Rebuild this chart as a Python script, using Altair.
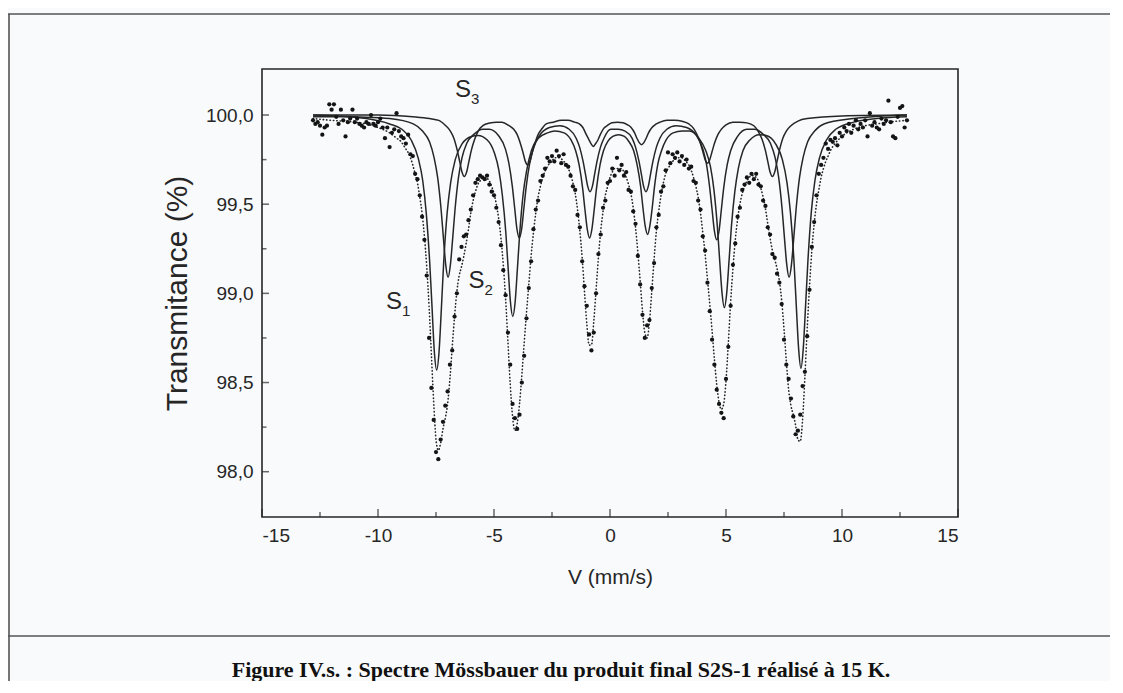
import altair as alt
import pandas as pd

# ---------------- measured spectrum (velocity channel, transmittance %) ----------------
DATA_V = [
    -12.8, -12.7, -12.6, -12.5, -12.4, -12.3, -12.2, -12.1, -12.0, -11.9,
    -11.8, -11.7, -11.6, -11.5, -11.4, -11.3, -11.2, -11.1, -11.0, -10.9,
    -10.8, -10.7, -10.6, -10.5, -10.4, -10.3, -10.2, -10.1, -10.0, -9.9,
    -9.8, -9.7, -9.6, -9.5, -9.4, -9.3, -9.2, -9.1, -9.0, -8.9,
    -8.8, -8.7, -8.6, -8.5, -8.4, -8.3, -8.2, -8.1, -8.0, -7.9,
    -7.8, -7.7, -7.6, -7.5, -7.4, -7.3, -7.2, -7.1, -7.0, -6.9,
    -6.8, -6.7, -6.6, -6.5, -6.4, -6.3, -6.2, -6.1, -6.0, -5.9,
    -5.8, -5.7, -5.6, -5.5, -5.4, -5.3, -5.2, -5.1, -5.0, -4.9,
    -4.8, -4.7, -4.6, -4.5, -4.4, -4.3, -4.2, -4.1, -4.0, -3.9,
    -3.8, -3.7, -3.6, -3.5, -3.4, -3.3, -3.2, -3.1, -3.0, -2.9,
    -2.8, -2.7, -2.6, -2.5, -2.4, -2.3, -2.2, -2.1, -2.0, -1.9,
    -1.8, -1.7, -1.6, -1.5, -1.4, -1.3, -1.2, -1.1, -1.0, -0.9,
    -0.8, -0.7, -0.6, -0.5, -0.4, -0.3, -0.2, -0.1, 0.0, 0.1,
    0.2, 0.3, 0.4, 0.5, 0.6, 0.7, 0.8, 0.9, 1.0, 1.1,
    1.2, 1.3, 1.4, 1.5, 1.6, 1.7, 1.8, 1.9, 2.0, 2.1,
    2.2, 2.3, 2.4, 2.5, 2.6, 2.7, 2.8, 2.9, 3.0, 3.1,
    3.2, 3.3, 3.4, 3.5, 3.6, 3.7, 3.8, 3.9, 4.0, 4.1,
    4.2, 4.3, 4.4, 4.5, 4.6, 4.7, 4.8, 4.9, 5.0, 5.1,
    5.2, 5.3, 5.4, 5.5, 5.6, 5.7, 5.8, 5.9, 6.0, 6.1,
    6.2, 6.3, 6.4, 6.5, 6.6, 6.7, 6.8, 6.9, 7.0, 7.1,
    7.2, 7.3, 7.4, 7.5, 7.6, 7.7, 7.8, 7.9, 8.0, 8.1,
    8.2, 8.3, 8.4, 8.5, 8.6, 8.7, 8.8, 8.9, 9.0, 9.1,
    9.2, 9.3, 9.4, 9.5, 9.6, 9.7, 9.8, 9.9, 10.0, 10.1,
    10.2, 10.3, 10.4, 10.5, 10.6, 10.7, 10.8, 10.9, 11.0, 11.1,
    11.2, 11.3, 11.4, 11.5, 11.6, 11.7, 11.8, 11.9, 12.0, 12.1,
    12.2, 12.3, 12.4, 12.5, 12.6, 12.7, 12.8,
]
DATA_T = [
    99.97, 99.95, 99.96, 99.94, 99.89, 99.93, 99.94, 100.06, 100.03, 100.06,
    99.99, 99.95, 100.03, 99.97, 99.88, 99.96, 99.98, 100.03, 99.96, 99.98,
    99.95, 99.94, 99.93, 99.96, 99.95, 100.00, 99.95, 99.94, 99.96, 99.98,
    99.93, 99.87, 99.93, 99.82, 99.90, 99.92, 100.01, 99.91, 99.88, 99.87,
    99.84, 99.89, 99.78, 99.77, 99.67, 99.64, 99.55, 99.43, 99.30, 99.10,
    98.75, 98.47, 98.29, 98.11, 98.07, 98.18, 98.28, 98.37, 98.45, 98.60,
    98.68, 98.87, 99.00, 99.19, 99.26, 99.32, 99.33, 99.41, 99.47, 99.55,
    99.62, 99.64, 99.66, 99.65, 99.64, 99.66, 99.61, 99.57, 99.55, 99.48,
    99.40, 99.27, 99.13, 98.99, 98.78, 98.60, 98.38, 98.30, 98.24, 98.32,
    98.50, 98.65, 98.86, 99.03, 99.18, 99.36, 99.47, 99.52, 99.63, 99.66,
    99.70, 99.76, 99.74, 99.77, 99.74, 99.80, 99.77, 99.73, 99.78, 99.72,
    99.71, 99.66, 99.60, 99.58, 99.44, 99.37, 99.18, 99.04, 98.93, 98.77,
    98.68, 98.78, 99.00, 99.22, 99.33, 99.48, 99.52, 99.62, 99.63, 99.70,
    99.66, 99.76, 99.69, 99.72, 99.66, 99.68, 99.58, 99.57, 99.46, 99.39,
    99.21, 99.05, 98.88, 98.75, 98.82, 98.85, 99.03, 99.17, 99.37, 99.44,
    99.57, 99.60, 99.69, 99.79, 99.73, 99.78, 99.76, 99.79, 99.74, 99.77,
    99.72, 99.75, 99.70, 99.71, 99.63, 99.62, 99.52, 99.47, 99.32, 99.24,
    99.06, 98.90, 98.74, 98.60, 98.46, 98.38, 98.33, 98.30, 98.52, 98.70,
    98.93, 99.16, 99.28, 99.43, 99.48, 99.58, 99.61, 99.65, 99.62, 99.67,
    99.64, 99.67, 99.61, 99.60, 99.52, 99.49, 99.37, 99.33, 99.22, 99.20,
    99.11, 99.06, 98.94, 98.74, 98.60, 98.52, 98.41, 98.31, 98.21, 98.23,
    98.32, 98.48, 98.56, 98.76, 99.02, 99.26, 99.40, 99.55, 99.67, 99.72,
    99.76, 99.84, 99.81, 99.86, 99.85, 99.87, 99.83, 99.90, 99.88, 99.93,
    99.91, 99.95, 99.90, 99.94, 99.97, 99.92, 99.95, 99.93, 99.97, 99.88,
    100.01, 99.94, 99.96, 99.93, 99.92, 99.98, 99.95, 99.97, 100.08, 99.96,
    99.88, 99.87, 99.99, 100.04, 100.05, 99.93, 99.97,
]

# ---------------- total fit (dotted) ----------------
FIT_V = [
    -12.8, -12.0, -11.0, -10.5, -10.0, -9.8, -9.5, -9.2, -9.0,
    -8.9, -8.8, -8.7, -8.6, -8.5, -8.4, -8.3, -8.2, -8.1, -8.0,
    -7.9, -7.8, -7.7, -7.6, -7.5, -7.4, -7.3, -7.2, -7.1, -7.0,
    -6.9, -6.8, -6.7, -6.6, -6.5, -6.4, -6.3, -6.2, -6.1, -6.0,
    -5.9, -5.8, -5.7, -5.6, -5.5, -5.4, -5.3, -5.2, -5.1, -5.0,
    -4.9, -4.8, -4.7, -4.6, -4.5, -4.4, -4.3, -4.2, -4.1, -4.0,
    -3.9, -3.8, -3.7, -3.6, -3.5, -3.4, -3.3, -3.2, -3.1, -3.0,
    -2.9, -2.8, -2.7, -2.6, -2.5, -2.4, -2.3, -2.2, -2.1, -2.0,
    -1.9, -1.8, -1.7, -1.6, -1.5, -1.4, -1.3, -1.2, -1.1, -1.0,
    -0.9, -0.8, -0.7, -0.6, -0.5, -0.4, -0.3, -0.2, -0.1, 0.0,
    0.1, 0.2, 0.3, 0.4, 0.5, 0.6, 0.7, 0.8, 0.9, 1.0,
    1.1, 1.2, 1.3, 1.4, 1.5, 1.6, 1.7, 1.8, 1.9, 2.0,
    2.1, 2.2, 2.3, 2.4, 2.5, 2.6, 2.7, 2.8, 2.9, 3.0,
    3.1, 3.2, 3.3, 3.4, 3.5, 3.6, 3.7, 3.8, 3.9, 4.0,
    4.1, 4.2, 4.3, 4.4, 4.5, 4.6, 4.7, 4.8, 4.9, 5.0,
    5.1, 5.2, 5.3, 5.4, 5.5, 5.6, 5.7, 5.8, 5.9, 6.0,
    6.1, 6.2, 6.3, 6.4, 6.5, 6.6, 6.7, 6.8, 6.9, 7.0,
    7.1, 7.2, 7.3, 7.4, 7.5, 7.6, 7.7, 7.8, 7.9, 8.0,
    8.1, 8.2, 8.3, 8.4, 8.5, 8.6, 8.7, 8.8, 8.9, 9.0,
    9.1, 9.2, 9.3, 9.4, 9.5, 9.7, 10.0, 10.5, 11.0, 11.5,
    12.0, 12.8,
]
FIT_T = [
    99.98, 99.97, 99.96, 99.95, 99.93, 99.92, 99.90, 99.87, 99.85,
    99.83, 99.81, 99.79, 99.76, 99.72, 99.67, 99.62, 99.54, 99.45, 99.32,
    99.15, 98.93, 98.66, 98.39, 98.18, 98.12, 98.16, 98.24, 98.30, 98.38,
    98.52, 98.70, 98.87, 99.01, 99.10, 99.15, 99.21, 99.28, 99.36, 99.45,
    99.52, 99.57, 99.61, 99.63, 99.65, 99.65, 99.645, 99.63, 99.60, 99.56,
    99.50, 99.42, 99.31, 99.16, 98.97, 98.73, 98.49, 98.31, 98.23, 98.27,
    98.38, 98.54, 98.72, 98.89, 99.05, 99.21, 99.34, 99.45, 99.54, 99.60,
    99.65, 99.685, 99.71, 99.73, 99.74, 99.76, 99.76, 99.76, 99.755, 99.74,
    99.73, 99.70, 99.67, 99.62, 99.56, 99.47, 99.35, 99.20, 99.01, 98.83,
    98.71, 98.71, 98.84, 99.02, 99.20, 99.35, 99.46, 99.55, 99.60, 99.65,
    99.68, 99.70, 99.70, 99.70, 99.70, 99.68, 99.65, 99.61, 99.56, 99.48,
    99.37, 99.23, 99.07, 98.90, 98.78, 98.75, 98.84, 99.01, 99.19, 99.35,
    99.46, 99.55, 99.62, 99.67, 99.70, 99.72, 99.74, 99.75, 99.76, 99.76,
    99.76, 99.75, 99.735, 99.72, 99.69, 99.65, 99.60, 99.54, 99.45, 99.34,
    99.22, 99.08, 98.94, 98.79, 98.63, 98.49, 98.39, 98.35, 98.38, 98.51,
    98.72, 98.95, 99.14, 99.30, 99.415, 99.50, 99.56, 99.60, 99.63, 99.65,
    99.66, 99.66, 99.65, 99.63, 99.59, 99.54, 99.475, 99.39, 99.31, 99.24,
    99.19, 99.14, 99.07, 98.96, 98.80, 98.62, 98.46, 98.37, 98.32, 98.26,
    98.18, 98.17, 98.29, 98.53, 98.80, 99.04, 99.24, 99.39, 99.50, 99.58,
    99.65, 99.70, 99.74, 99.77, 99.80, 99.84, 99.88, 99.92, 99.94, 99.95,
    99.96, 99.97,
]

# ---------------- sub-spectra (sextets S1, S2, S3) ----------------
S1_V = [
    -12.8, -11.5, -10.5, -9.5, -8.97, -8.57, -8.27, -8.07, -7.92, -7.77,
    -7.67, -7.57, -7.47, -7.37, -7.27, -7.17, -7.02, -6.87, -6.67, -6.37,
    -5.97, -5.69, -5.29, -4.99, -4.79, -4.64, -4.49, -4.39, -4.29, -4.19,
    -4.09, -3.99, -3.89, -3.74, -3.59, -3.39, -3.09, -2.69, -2.38, -1.98,
    -1.68, -1.48, -1.33, -1.18, -1.08, -0.98, -0.88, -0.78, -0.68, -0.58,
    -0.43, -0.28, -0.08, 0.12, 0.37, 0.62, 0.82, 1.02, 1.17, 1.32,
    1.42, 1.52, 1.62, 1.72, 1.82, 1.92, 2.07, 2.22, 2.42, 2.72,
    3.12, 3.43, 3.83, 4.13, 4.33, 4.48, 4.63, 4.73, 4.83, 4.93,
    5.03, 5.13, 5.23, 5.38, 5.53, 5.73, 6.03, 6.43, 6.73, 7.13,
    7.43, 7.63, 7.78, 7.93, 8.03, 8.13, 8.23, 8.33, 8.43, 8.53,
    8.68, 8.83, 9.03, 9.33, 9.73, 10.5, 11.5, 12.8,
]
S1_T = [
    99.99, 99.99, 99.98, 99.95, 99.92, 99.86, 99.76, 99.63, 99.45, 99.17,
    98.92, 98.67, 98.57, 98.67, 98.91, 99.17, 99.45, 99.62, 99.75, 99.84,
    99.88, 99.885, 99.86, 99.79, 99.69, 99.55, 99.34, 99.14, 98.95, 98.87,
    98.95, 99.14, 99.34, 99.56, 99.69, 99.80, 99.87, 99.90, 99.91, 99.90,
    99.86, 99.80, 99.72, 99.59, 99.47, 99.36, 99.31, 99.36, 99.47, 99.59,
    99.72, 99.80, 99.855, 99.88, 99.89, 99.88, 99.85, 99.80, 99.72, 99.60,
    99.48, 99.375, 99.33, 99.38, 99.48, 99.60, 99.73, 99.80, 99.86, 99.90,
    99.91, 99.91, 99.87, 99.80, 99.71, 99.58, 99.37, 99.18, 99.00, 98.92,
    99.00, 99.18, 99.37, 99.57, 99.70, 99.80, 99.86, 99.89, 99.885, 99.84,
    99.75, 99.62, 99.45, 99.18, 98.93, 98.69, 98.58, 98.69, 98.93, 99.18,
    99.46, 99.63, 99.76, 99.86, 99.92, 99.96, 99.98, 99.99,
]
S2_V = [
    -12.8, -11.0, -9.5, -8.48, -8.08, -7.78, -7.58, -7.43, -7.28, -7.18,
    -7.08, -6.98, -6.88, -6.78, -6.68, -6.53, -6.38, -6.18, -5.88, -5.48,
    -5.21, -4.81, -4.51, -4.36, -4.21, -4.11, -4.01, -3.91, -3.81, -3.71,
    -3.61, -3.46, -3.31, -3.01, -2.61, -2.16, -1.76, -1.46, -1.31, -1.16,
    -1.06, -0.96, -0.86, -0.76, -0.66, -0.56, -0.41, -0.26, 0.04, 0.35,
    0.65, 0.95, 1.10, 1.25, 1.35, 1.45, 1.55, 1.65, 1.75, 1.85,
    2.00, 2.15, 2.45, 2.85, 3.30, 3.70, 4.00, 4.15, 4.30, 4.40,
    4.50, 4.60, 4.70, 4.80, 4.90, 5.05, 5.20, 5.50, 5.90, 6.22,
    6.62, 6.92, 7.12, 7.27, 7.42, 7.52, 7.62, 7.72, 7.82, 7.92,
    8.02, 8.17, 8.32, 8.52, 8.82, 9.22, 10.5, 12.8,
]
S2_T = [
    100.00, 99.99, 99.98, 99.95, 99.91, 99.85, 99.76, 99.65, 99.47, 99.31,
    99.16, 99.09, 99.16, 99.31, 99.47, 99.65, 99.76, 99.84, 99.89, 99.92,
    99.92, 99.885, 99.81, 99.73, 99.60, 99.48, 99.36, 99.31, 99.36, 99.48,
    99.60, 99.73, 99.81, 99.89, 99.93, 99.94, 99.92, 99.87, 99.82, 99.74,
    99.67, 99.60, 99.57, 99.60, 99.67, 99.74, 99.82, 99.87, 99.92, 99.92,
    99.91, 99.87, 99.82, 99.74, 99.67, 99.60, 99.57, 99.60, 99.67, 99.74,
    99.82, 99.87, 99.92, 99.94, 99.93, 99.89, 99.81, 99.73, 99.59, 99.47,
    99.35, 99.30, 99.35, 99.47, 99.59, 99.72, 99.80, 99.88, 99.92, 99.92,
    99.89, 99.84, 99.76, 99.65, 99.47, 99.31, 99.16, 99.09, 99.16, 99.31,
    99.47, 99.65, 99.76, 99.85, 99.91, 99.95, 99.98, 100.00,
]
S3_V = [
    -12.8, -10.0, -8.5, -7.78, -7.38, -7.08, -6.88, -6.73, -6.58, -6.48,
    -6.38, -6.28, -6.18, -6.08, -5.98, -5.83, -5.68, -5.48, -5.18, -4.90,
    -4.65, -4.35, -4.15, -4.00, -3.85, -3.75, -3.65, -3.55, -3.45, -3.35,
    -3.25, -3.10, -2.95, -2.75, -2.45, -2.10, -1.82, -1.52, -1.32, -1.17,
    -1.02, -0.92, -0.82, -0.72, -0.62, -0.52, -0.42, -0.27, -0.12, 0.08,
    0.32, 0.56, 0.76, 0.91, 1.06, 1.16, 1.26, 1.36, 1.46, 1.56,
    1.66, 1.81, 1.96, 2.16, 2.46, 2.80, 3.10, 3.40, 3.60, 3.75,
    3.90, 4.00, 4.10, 4.20, 4.30, 4.40, 4.50, 4.65, 4.80, 5.00,
    5.30, 5.60, 5.90, 6.20, 6.40, 6.55, 6.70, 6.80, 6.90, 7.00,
    7.10, 7.20, 7.30, 7.45, 7.60, 7.80, 8.10, 8.50, 10.0, 12.8,
]
S3_T = [
    100.00, 100.00, 99.99, 99.98, 99.97, 99.94, 99.91, 99.87, 99.80, 99.74,
    99.68, 99.655, 99.68, 99.74, 99.80, 99.865, 99.91, 99.94, 99.955, 99.96,
    99.96, 99.94, 99.92, 99.89, 99.835, 99.79, 99.74, 99.72, 99.74, 99.79,
    99.835, 99.89, 99.92, 99.95, 99.96, 99.97, 99.97, 99.96, 99.95, 99.93,
    99.89, 99.865, 99.84, 99.824, 99.84, 99.86, 99.89, 99.925, 99.94, 99.957,
    99.96, 99.957, 99.945, 99.93, 99.90, 99.87, 99.845, 99.833, 99.845, 99.87,
    99.90, 99.93, 99.947, 99.96, 99.97, 99.97, 99.965, 99.95, 99.925, 99.89,
    99.84, 99.795, 99.75, 99.73, 99.75, 99.795, 99.84, 99.89, 99.92, 99.945,
    99.96, 99.96, 99.956, 99.94, 99.906, 99.865, 99.80, 99.74, 99.68, 99.655,
    99.68, 99.74, 99.80, 99.87, 99.91, 99.94, 99.966, 99.98, 99.995, 100.00,
]
SERIES = ["S1", "S2", "S3"]

# ---------------- annotations ----------------
LABEL_MAIN = ["S", "S", "S"]
LABEL_SUB = ["1", "2", "3"]
LABEL_V = [-9.31, -5.75, -6.34]
LABEL_T = [98.95, 99.07, 100.14]

X_DOMAIN = [-15, 15]
Y_DOMAIN = [97.746, 100.258]
X_MAJOR = [-15, -10, -5, 0, 5, 10, 15]
X_MINOR = [-12.5, -7.5, -2.5, 2.5, 7.5, 12.5]
Y_MAJOR = [98.0, 98.5, 99.0, 99.5, 100.0]
Y_MINOR = [98.25, 98.75, 99.25, 99.75]

CAPTION = ["Figure IV.s. : Spectre Mössbauer du produit final S2S-1 réalisé à 15 K."]

# ---------------- tables ----------------
assert len(DATA_V) == len(DATA_T)
assert len(FIT_V) == len(FIT_T)
data_df = pd.DataFrame({"v": DATA_V, "t": DATA_T})
fit_df = pd.DataFrame({"v": FIT_V, "t": FIT_T})
sub_df = pd.concat(
    [pd.DataFrame({"v": v, "t": t, "s": name})
     for name, v, t in zip(SERIES, [S1_V, S2_V, S3_V], [S1_T, S2_T, S3_T])],
    ignore_index=True,
)
lab_df = pd.DataFrame({"v": LABEL_V, "t": LABEL_T, "main": LABEL_MAIN, "sub": LABEL_SUB})
xmaj_df = pd.DataFrame({"v": X_MAJOR})
xmin_df = pd.DataFrame({"v": X_MINOR})
ymaj_df = pd.DataFrame({"t": Y_MAJOR})
ymin_df = pd.DataFrame({"t": Y_MINOR})
cap_df = pd.DataFrame({"text": CAPTION})
one_df = pd.DataFrame({"k": [0]})

INK = "#262626"
FONT = "Liberation Sans"

xs = alt.Scale(domain=X_DOMAIN, nice=False, zero=False)
ys = alt.Scale(domain=Y_DOMAIN, nice=False, zero=False)

x_axis = alt.Axis(
    values=X_MAJOR, ticks=False, domain=False, grid=False,
    labelExpr="'' + datum.value", labelFont=FONT, labelFontSize=19,
    labelColor=INK, labelPadding=9,
    title="V (mm/s)", titleFont=FONT, titleFontSize=21,
    titleFontWeight="normal", titleColor=INK, titlePadding=21,
)
y_axis = alt.Axis(
    values=Y_MAJOR, ticks=False, domain=False, grid=False,
    labelExpr="replace(format(datum.value, '.1f'), '.', ',')",
    labelFont=FONT, labelFontSize=19, labelColor=INK, labelPadding=9,
    title="Transmitance (%)", titleFont=FONT, titleFontSize=30,
    titleFontWeight="normal", titleColor=INK, titlePadding=13,
)


def X(field=None, datum=None):
    if datum is not None:
        return alt.X(datum=datum, scale=xs, axis=x_axis)
    return alt.X(field, scale=xs, axis=x_axis)


def Y(field=None, datum=None):
    if datum is not None:
        return alt.Y(datum=datum, scale=ys, axis=y_axis)
    return alt.Y(field, scale=ys, axis=y_axis)


fit = alt.Chart(fit_df).mark_line(
    color=INK, strokeWidth=1.6, strokeDash=[0.4, 3.0], strokeCap="round",
    interpolate="monotone",
).encode(x=X("v:Q"), y=Y("t:Q"))

subs = alt.Chart(sub_df).mark_line(
    color=INK, strokeWidth=1.5, interpolate="monotone",
).encode(x=X("v:Q"), y=Y("t:Q"), detail="s:N")

pts = alt.Chart(data_df).mark_circle(size=18, color="#141414", opacity=1).encode(
    x=X("v:Q"), y=Y("t:Q"))

lab_main = alt.Chart(lab_df).mark_text(
    font=FONT, fontSize=24, color=INK, align="center", baseline="middle",
).encode(x=X("v:Q"), y=Y("t:Q"), text="main:N")
lab_sub = alt.Chart(lab_df).mark_text(
    font=FONT, fontSize=15, color=INK, align="left", baseline="middle", dx=8, dy=9,
).encode(x=X("v:Q"), y=Y("t:Q"), text="sub:N")

xt_major = alt.Chart(xmaj_df).mark_tick(
    orient="vertical", size=8, thickness=1.5, color=INK, yOffset=-4,
).encode(x=X("v:Q"), y=Y(datum=Y_DOMAIN[0]))
xt_minor = alt.Chart(xmin_df).mark_tick(
    orient="vertical", size=5, thickness=1.5, color=INK, yOffset=-2.5,
).encode(x=X("v:Q"), y=Y(datum=Y_DOMAIN[0]))
yt_major = alt.Chart(ymaj_df).mark_tick(
    orient="horizontal", size=7, thickness=1.5, color=INK, xOffset=3.5,
).encode(y=Y("t:Q"), x=X(datum=X_DOMAIN[0]))
yt_minor = alt.Chart(ymin_df).mark_tick(
    orient="horizontal", size=4.5, thickness=1.5, color=INK, xOffset=2.25,
).encode(y=Y("t:Q"), x=X(datum=X_DOMAIN[0]))

# page frame and caption of the scanned figure (decoration, pixel placed)
frame_top = alt.Chart(one_df).mark_rule(color="#555", strokeWidth=1.6).encode(
    x=alt.value(-254), x2=alt.value(850), y=alt.value(-55))
frame_left = alt.Chart(one_df).mark_rule(color="#555", strokeWidth=1.6).encode(
    x=alt.value(-253), y=alt.value(-55), y2=alt.value(620))
frame_sep = alt.Chart(one_df).mark_rule(color="#555", strokeWidth=1.6).encode(
    x=alt.value(-254), x2=alt.value(850), y=alt.value(567))
caption = alt.Chart(cap_df).mark_text(
    font="Liberation Serif", fontSize=22, fontWeight="bold", color="#111",
    align="center", baseline="middle",
).encode(x=alt.value(299), y=alt.value(601), text="text:N")

chart = alt.layer(
    fit, subs, pts, lab_main, lab_sub,
    xt_major, xt_minor, yt_major, yt_minor,
    frame_top, frame_left, frame_sep, caption,
).properties(
    width=696, height=448,
    autosize=alt.AutoSizeParams(type="none"),
    padding={"left": 254, "top": 61, "right": 152, "bottom": 164},
    background="#f9fafb",
).configure_view(
    stroke=INK, strokeWidth=1.6, fill=None,
)

chart.save("out.html", embed_options={"renderer": "svg", "actions": False})
